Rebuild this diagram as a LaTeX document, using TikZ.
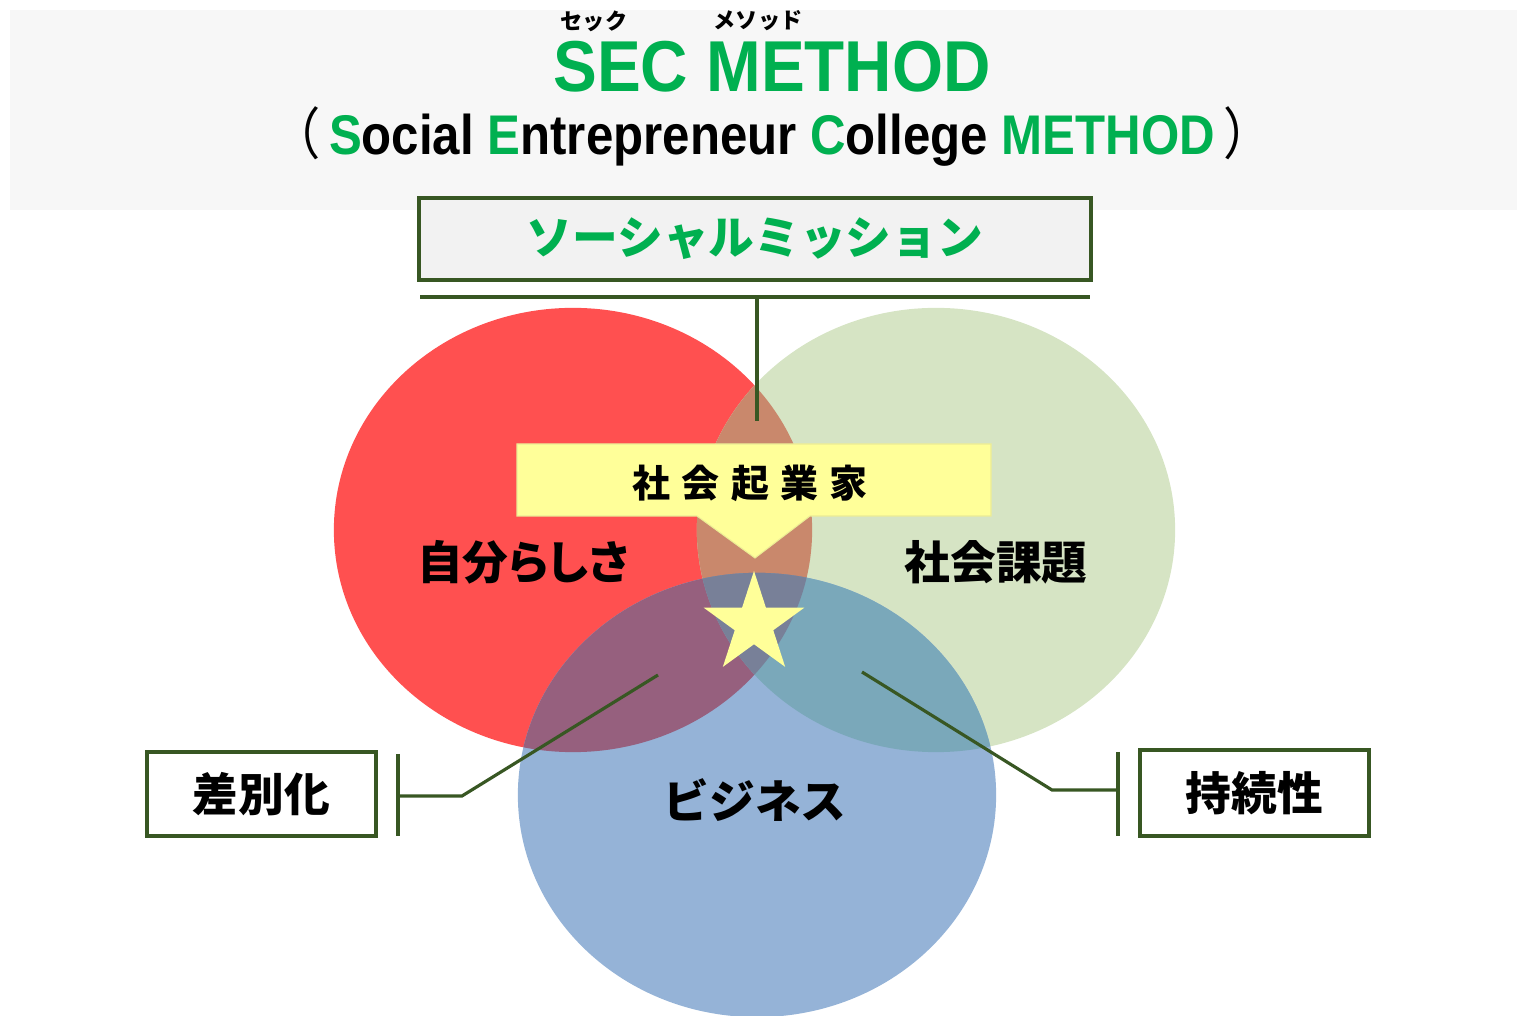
\documentclass[tikz,border=0pt]{standalone}
\usepackage{fontspec}
\setmainfont{Liberation Sans}
\newfontfamily\jp{Noto Sans CJK JP}
\newfontfamily\jpp{Noto Sans CJK JP}[RawFeature=+palt]
\usetikzlibrary{shapes.geometric}

\definecolor{secgreen}{RGB}{0,176,80}
\definecolor{linegreen}{RGB}{56,87,35}
\definecolor{bandgray}{RGB}{247,247,247}
\definecolor{boxgray}{RGB}{242,242,242}
\definecolor{selfred}{RGB}{255,80,80}
\definecolor{issuegreen}{RGB}{214,228,196}
\definecolor{bizblue}{RGB}{149,179,215}
\definecolor{rgmix}{RGB}{201,136,108}
\definecolor{rbmix}{RGB}{150,96,126}
\definecolor{gbmix}{RGB}{122,168,186}
\definecolor{allmix}{RGB}{120,128,152}
\definecolor{calloutyellow}{RGB}{255,255,153}

\begin{document}
\begin{tikzpicture}[x=0.01cm,y=-0.01cm,
    label/.style={font=\jp\bfseries\fontsize{13}{15}\selectfont, inner sep=0pt},
    sidebox/.style={draw=linegreen, line width=1.1pt, fill=white,
      minimum width=2.29cm, minimum height=0.84cm, inner sep=0pt,
      font=\jp\bfseries\fontsize{13}{15}\selectfont},
    link/.style={linegreen, line width=0.9pt}]
\useasboundingbox (0,0) rectangle (1517,1016);
\fill[bandgray] (10,10) rectangle (1517,210);

% title
\node[anchor=base, inner sep=0pt, text=secgreen, xscale=0.91,
  font=\bfseries\fontsize{20.5}{24}\selectfont] (title) at (772,92) {SEC METHOD};
\node[inner sep=0pt, font=\jp\bfseries\fontsize{6.3}{8}\selectfont] (rubysec) at (594,21) {セック};
\node[inner sep=0pt, font=\jp\bfseries\fontsize{6.3}{8}\selectfont] (rubymethod) at (758,21) {メソッド};
\node[anchor=base, inner sep=0pt, xscale=0.88, font=\bfseries\fontsize{15.9}{18}\selectfont] (subtitle) at (772,155)
  {{\jp\mdseries （}\,{\color{secgreen}S}ocial {\color{secgreen}E}ntrepreneur {\color{secgreen}C}ollege {\color{secgreen}METHOD}\,{\jp\mdseries ）}};

% circles
\begin{scope}
  \clip (0,0) rectangle (1517,1016);
  \fill[selfred] (573,530) ellipse [x radius=2.39cm, y radius=2.22cm];
  \fill[issuegreen] (936,530) ellipse [x radius=2.39cm, y radius=2.22cm];
  \fill[bizblue] (757,795) ellipse [x radius=2.39cm, y radius=2.22cm];
  \begin{scope}
    \clip (573,530) ellipse [x radius=2.39cm, y radius=2.22cm];
    \fill[rgmix] (936,530) ellipse [x radius=2.39cm, y radius=2.22cm];
    \fill[rbmix] (757,795) ellipse [x radius=2.39cm, y radius=2.22cm];
  \end{scope}
  \begin{scope}
    \clip (936,530) ellipse [x radius=2.39cm, y radius=2.22cm];
    \fill[gbmix] (757,795) ellipse [x radius=2.39cm, y radius=2.22cm];
    \clip (573,530) ellipse [x radius=2.39cm, y radius=2.22cm];
    \fill[allmix] (757,795) ellipse [x radius=2.39cm, y radius=2.22cm];
  \end{scope}
\end{scope}

% social mission
\node[draw=linegreen, line width=1.2pt, fill=boxgray, minimum width=6.72cm, minimum height=0.82cm,
  text=secgreen, font=\jp\bfseries\fontsize{13}{15}\selectfont] (mission) at (755,239) {ソーシャルミッション};
\coordinate (barl) at (420,297);
\coordinate (barr) at (1090,297);
\coordinate (bartop) at (757,297);
\coordinate (barend) at (757,421);
\draw[link, line width=1.2pt] (barl) -- (barr);
\draw[link] (bartop) -- (barend);

% callout
\fill[calloutyellow, draw=calloutyellow!85!gray, line width=0.3pt]
  (517,444) -- (991,444) -- (991,516) -- (810,516) -- (755,558) -- (697,516) -- (517,516) -- cycle;
\node[inner sep=0pt, font=\jp\bfseries\fontsize{10.8}{13}\selectfont] (entrepreneur) at (750,483)
  {社\hspace{0.3em}会\hspace{0.3em}起\hspace{0.3em}業\hspace{0.3em}家};

\node[star, star points=5, star point ratio=2.618, minimum size=1.06cm, inner sep=0pt,
  fill=calloutyellow] (star) at (754,624) {};

\node[label, font=\jpp\bfseries\fontsize{13}{15}\selectfont] (self) at (523,562) {自分らしさ};
\node[label] (issue) at (996,562) {社会課題};
\node[label] (biz) at (755,800) {ビジネス};

% side boxes
\node[sidebox] (diff) at (261.5,794) {差別化};
\node[sidebox, minimum height=0.86cm] (sustain) at (1254.5,793) {持続性};

\coordinate (ltop) at (398,754);
\coordinate (lbot) at (398,836);
\coordinate (lmid) at (398,796);
\coordinate (lknee) at (462,796);
\coordinate (lend) at (658,675);
\draw[link] (ltop) -- (lbot);
\draw[link] (lmid) -- (lknee) -- (lend);

\coordinate (rtop) at (1118,752);
\coordinate (rbot) at (1118,836);
\coordinate (rmid) at (1118,790);
\coordinate (rknee) at (1052,790);
\coordinate (rend) at (862,672);
\draw[link] (rtop) -- (rbot);
\draw[link] (rmid) -- (rknee) -- (rend);
\end{tikzpicture}
\end{document}
